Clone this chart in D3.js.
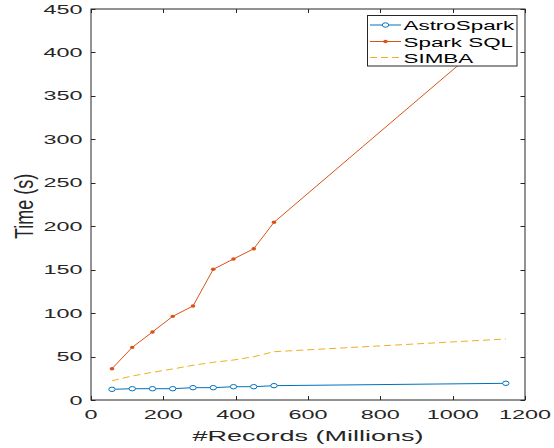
<!DOCTYPE html>
<html><head><meta charset="utf-8">
<script src="https://cdn.jsdelivr.net/npm/d3@7"></script>
<style>
html,body{margin:0;padding:0;background:#fff;}
svg{display:block;font-family:"Liberation Sans",Arial,sans-serif;}
</style></head>
<body><svg id="c" width="554" height="448"></svg>
<script>
const records = [58, 114, 170, 226, 282, 338, 394, 450, 506, 1147];
const astroSpark = [12.3, 13, 13, 13, 14.2, 14.2, 15.3, 15.3, 16.5, 19.2];
const sparkSQL = [36, 60.6, 78.3, 96.3, 108.2, 150.4, 162.3, 174.1, 204.5, 432];
const simba = [22.2, 27.6, 31.9, 35.7, 39.9, 43.4, 46, 49.8, 55.6, 70.2];
const xTicks = [0, 200, 400, 600, 800, 1000, 1200];
const yTicks = [0, 50, 100, 150, 200, 250, 300, 350, 400, 450];
const seriesNames = ["AstroSpark", "Spark SQL", "SIMBA"];
const colors = ["#0072BD", "#D95319", "#EDB120"];

const svg = d3.select("#c");
const L = 91, R = 525, T = 9, B = 400;
const SX = 1.8; // horizontal stretch of the reference text
const x = d3.scaleLinear().domain([0, 1200]).range([L, R]);
const y = d3.scaleLinear().domain([0, 450]).range([B, T]);
const axisColor = "#262626";

// box
svg.append("rect").attr("x", L).attr("y", T).attr("width", R - L).attr("height", B - T)
  .attr("fill", "none").attr("stroke", axisColor).attr("stroke-width", 1);

// ticks (inside, all four sides)
const tk = svg.append("g").attr("stroke", axisColor).attr("stroke-width", 1);
xTicks.forEach(v => {
  const px = Math.round(x(v)) + 0.5;
  tk.append("line").attr("x1", px).attr("x2", px).attr("y1", B).attr("y2", B - 4);
  tk.append("line").attr("x1", px).attr("x2", px).attr("y1", T).attr("y2", T + 4);
});
yTicks.forEach(v => {
  const py = Math.round(y(v)) + 0.5;
  tk.append("line").attr("x1", L).attr("x2", L + 4.5).attr("y1", py).attr("y2", py);
  tk.append("line").attr("x1", R).attr("x2", R - 4.5).attr("y1", py).attr("y2", py);
});

// tick labels
xTicks.forEach(v => {
  svg.append("text").attr("transform", `translate(${x(v)},419) scale(${SX},1)`)
    .attr("text-anchor", "middle").attr("font-size", 13).attr("fill", axisColor).text(v);
});
yTicks.forEach(v => {
  svg.append("text").attr("transform", `translate(82.5,${y(v) + 4.6}) scale(${SX},1)`)
    .attr("text-anchor", "end").attr("font-size", 13).attr("fill", axisColor).text(v);
});

// axis labels
svg.append("text").attr("transform", `translate(${(L + R) / 2 + 0},441) scale(${SX},1)`)
  .attr("text-anchor", "middle").attr("font-size", 15).attr("fill", axisColor)
  .text("#Records (Millions)");
svg.append("text").attr("transform", `translate(33,206.5) scale(1.4,1) rotate(-90)`)
  .attr("text-anchor", "middle").attr("font-size", 18).attr("fill", axisColor)
  .text("Time (s)");

// series
const line = d3.line().x(d => x(d[0])).y(d => y(d[1]));
const plot = svg.append("g");

// SIMBA dashed
plot.append("path").datum(records.map((r, i) => [r, simba[i]]))
  .attr("d", line).attr("fill", "none").attr("stroke", colors[2])
  .attr("stroke-width", 1).attr("stroke-dasharray", "7,4");
// Spark SQL
plot.append("path").datum(records.map((r, i) => [r, sparkSQL[i]]))
  .attr("d", line).attr("fill", "none").attr("stroke", colors[1]).attr("stroke-width", 1);
plot.selectAll(".sq").data(records.map((r, i) => [r, sparkSQL[i]])).enter()
  .append("ellipse").attr("cx", d => x(d[0])).attr("cy", d => y(d[1]))
  .attr("rx", 2.3).attr("ry", 1.7).attr("fill", colors[1]);
// AstroSpark
plot.append("path").datum(records.map((r, i) => [r, astroSpark[i]]))
  .attr("d", line).attr("fill", "none").attr("stroke", colors[0]).attr("stroke-width", 1);
plot.selectAll(".as").data(records.map((r, i) => [r, astroSpark[i]])).enter()
  .append("ellipse").attr("cx", d => x(d[0])).attr("cy", d => y(d[1]))
  .attr("rx", 3.2).attr("ry", 2.2).attr("fill", "#fff").attr("stroke", colors[0]).attr("stroke-width", 1);

// legend
const lg = svg.append("g");
lg.append("rect").attr("x", 367.5).attr("y", 15.5).attr("width", 149.5).attr("height", 50.5)
  .attr("fill", "#fff").attr("stroke", axisColor).attr("stroke-width", 1);
const rowsY = [25, 41.5, 57.5];
seriesNames.forEach((n, i) => {
  const ly = rowsY[i];
  const l = lg.append("line").attr("x1", 370).attr("x2", 401).attr("y1", ly).attr("y2", ly)
    .attr("stroke", colors[i]).attr("stroke-width", 1);
  if (i === 2) l.attr("stroke-dasharray", "7,4");
  if (i === 0) lg.append("ellipse").attr("cx", 385.5).attr("cy", ly).attr("rx", 3.2).attr("ry", 2.2)
    .attr("fill", "#fff").attr("stroke", colors[0]);
  if (i === 1) lg.append("ellipse").attr("cx", 385.5).attr("cy", ly).attr("rx", 2.3).attr("ry", 1.7)
    .attr("fill", colors[1]);
  lg.append("text").attr("transform", `translate(403.5,${ly + 5}) scale(1.66,1)`)
    .attr("font-size", 13.5).attr("fill", "#000").text(n);
});
</script></body></html>
